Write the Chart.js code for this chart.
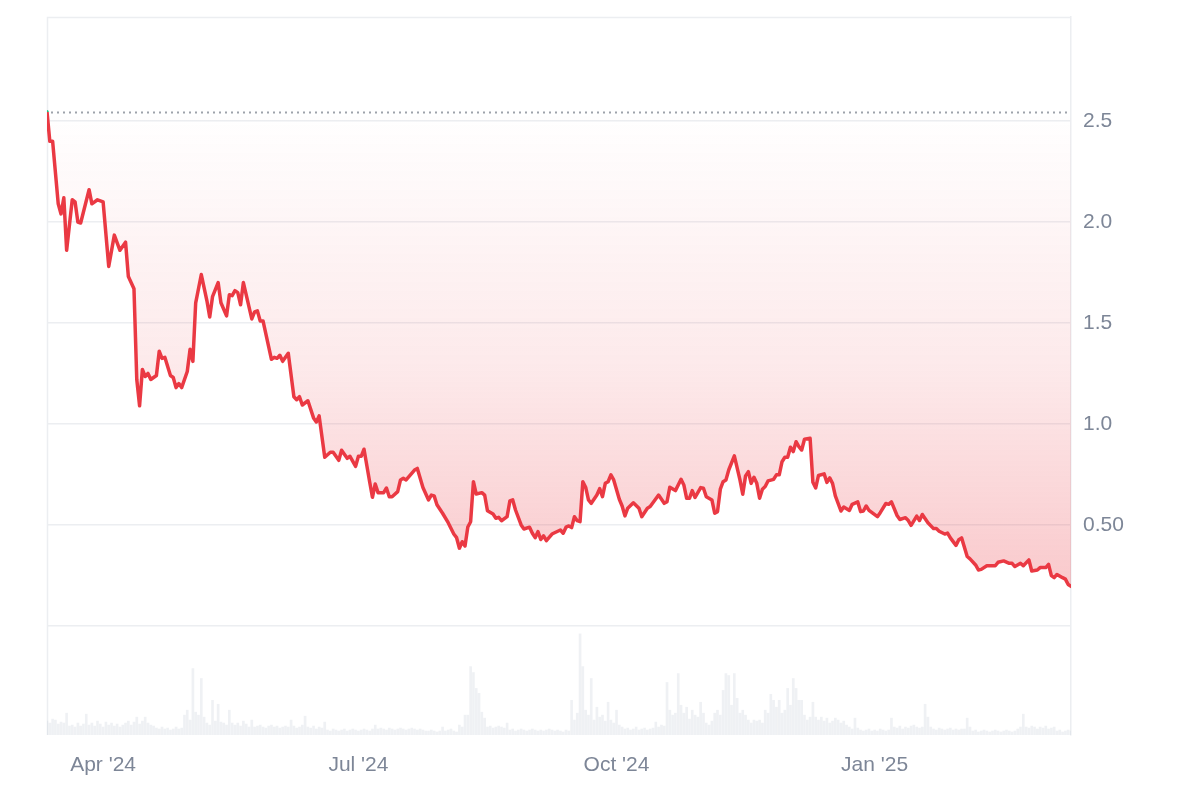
<!DOCTYPE html>
<html>
<head>
<meta charset="utf-8">
<title>Price chart</title>
<script src="https://cdn.jsdelivr.net/npm/chart.js@4.4.1/dist/chart.umd.min.js"></script>
<style>
  html, body { margin: 0; padding: 0; background: #fff; }
  canvas { display: block; }
</style>
</head>
<body>
<canvas id="price-chart" width="1200" height="797"></canvas>
<script>
// days are counted from 2024-03-12 (day 0) to 2025-03-12 (day 365)
const priceDay = [
  0, 1, 2, 4, 5, 6, 7, 9, 10, 11, 12, 15, 16, 18, 20, 22, 24, 26, 28, 29,
  31, 32, 33, 34, 35, 36, 37, 39, 40, 41, 42, 44, 45, 46, 47, 48, 50, 51, 52, 53,
  55, 57, 58, 59, 61, 62, 64, 65, 66, 67, 68, 69, 70, 73, 74, 75, 76, 77, 80, 81,
  82, 83, 84, 86, 88, 89, 90, 91, 93, 95, 96, 97, 99, 101, 102, 104, 105, 106, 107, 108,
  110, 111, 112, 113, 115, 116, 117, 118, 120, 121, 122, 123, 125, 126, 127, 128, 131, 132, 134, 136,
  137, 138, 139, 141, 143, 145, 146, 147, 148, 149, 150, 151, 152, 153, 155, 156, 157, 159, 160, 161,
  162, 164, 165, 166, 167, 169, 170, 172, 173, 174, 175, 176, 177, 178, 180, 183, 184, 185, 186, 187,
  188, 189, 190, 191, 192, 193, 194, 196, 197, 198, 199, 200, 201, 202, 204, 205, 206, 207, 209, 211,
  212, 214, 215, 218, 220, 221, 222, 224, 226, 227, 228, 229, 230, 231, 233, 234, 235, 237, 238, 239,
  240, 241, 242, 243, 245, 247, 248, 249, 250, 251, 252, 253, 254, 255, 256, 257, 259, 260, 261, 262,
  263, 264, 265, 266, 267, 268, 269, 270, 272, 273, 274, 275, 277, 278, 279, 280, 281, 283, 284, 286,
  287, 289, 290, 291, 292, 293, 296, 297, 299, 300, 301, 303, 304, 306, 307, 308, 310, 311, 312, 314,
  316, 317, 318, 320, 321, 322, 324, 325, 326, 328, 329, 331, 332, 333, 335, 337, 338, 339, 341, 343,
  344, 345, 347, 348, 350, 351, 353, 354, 356, 357, 358, 359, 360, 362, 363, 364, 365
];
const priceValue = [
  2.546, 2.40, 2.40, 2.09, 2.04, 2.12, 1.86, 2.11, 2.10, 2.00, 1.995, 2.16, 2.09, 2.11, 2.10, 1.78, 1.935, 1.86, 1.90, 1.73,
  1.67, 1.22, 1.09, 1.27, 1.235, 1.25, 1.22, 1.24, 1.36, 1.325, 1.33, 1.24, 1.23, 1.18, 1.20, 1.18, 1.26, 1.37, 1.31, 1.60,
  1.74, 1.61, 1.53, 1.63, 1.70, 1.60, 1.535, 1.64, 1.635, 1.66, 1.65, 1.59, 1.70, 1.52, 1.555, 1.56, 1.51, 1.51, 1.32, 1.33,
  1.325, 1.34, 1.31, 1.35, 1.135, 1.12, 1.135, 1.094, 1.115, 1.03, 1.01, 1.04, 0.835, 0.86, 0.86, 0.82, 0.87, 0.85, 0.83, 0.84,
  0.79, 0.84, 0.84, 0.875, 0.714, 0.637, 0.703, 0.66, 0.66, 0.683, 0.64, 0.64, 0.665, 0.723, 0.731, 0.723, 0.772, 0.78, 0.685, 0.624,
  0.648, 0.644, 0.60, 0.558, 0.511, 0.455, 0.437, 0.385, 0.417, 0.396, 0.49, 0.516, 0.714, 0.653, 0.66, 0.648, 0.57, 0.554, 0.533, 0.538,
  0.521, 0.541, 0.619, 0.624, 0.574, 0.50, 0.48, 0.489, 0.459, 0.437, 0.467, 0.428, 0.446, 0.422, 0.455, 0.475, 0.459, 0.489, 0.495, 0.487,
  0.541, 0.521, 0.516, 0.714, 0.687, 0.624, 0.607, 0.648, 0.68, 0.64, 0.706, 0.714, 0.748, 0.723, 0.627, 0.594, 0.545, 0.583, 0.61, 0.583,
  0.541, 0.583, 0.591, 0.648, 0.607, 0.615, 0.687, 0.67, 0.726, 0.698, 0.632, 0.632, 0.67, 0.636, 0.685, 0.682, 0.64, 0.624, 0.558, 0.566,
  0.677, 0.714, 0.723, 0.772, 0.842, 0.723, 0.652, 0.743, 0.764, 0.706, 0.736, 0.706, 0.632, 0.677, 0.69, 0.718, 0.726, 0.748, 0.748, 0.813,
  0.835, 0.835, 0.885, 0.863, 0.912, 0.888, 0.871, 0.924, 0.929, 0.711, 0.683, 0.745, 0.753, 0.711, 0.733, 0.706, 0.644, 0.569, 0.589, 0.572,
  0.602, 0.614, 0.566, 0.569, 0.594, 0.572, 0.541, 0.561, 0.606, 0.602, 0.614, 0.547, 0.527, 0.536, 0.522, 0.498, 0.544, 0.522, 0.552, 0.511,
  0.482, 0.482, 0.469, 0.455, 0.46, 0.436, 0.399, 0.427, 0.436, 0.344, 0.332, 0.302, 0.277, 0.28, 0.298, 0.298, 0.298, 0.315, 0.322, 0.31,
  0.31, 0.294, 0.31, 0.298, 0.327, 0.272, 0.277, 0.289, 0.289, 0.305, 0.249, 0.239, 0.255, 0.239, 0.232, 0.205, 0.196
];
// daily volume, one value per day starting at day 0 (relative units)
const volume = [
  14, 12, 16, 15, 11, 13, 12, 22, 9, 10,
  8, 12, 9, 11, 21, 10, 12, 9, 14, 11,
  8, 13, 10, 12, 9, 11, 8, 10, 12, 14,
  10, 13, 18, 11, 14, 18, 12, 10, 9, 7,
  6, 8, 6, 7, 5, 6, 8, 6, 7, 20,
  25, 15, 67, 23, 20, 57, 18, 12, 10, 35,
  14, 31, 13, 12, 10, 25, 12, 10, 12, 9,
  14, 11, 8, 15, 8, 9, 10, 8, 7, 9,
  10, 8, 9, 7, 8, 9, 8, 15, 9, 7,
  8, 10, 19, 8, 7, 9, 6, 8, 7, 13,
  5, 4, 6, 5, 4, 5, 6, 4, 5, 6,
  5, 4, 5, 6, 5, 4, 6, 10, 6, 7,
  6, 5, 7, 6, 5, 6, 7, 6, 5, 6,
  7, 6, 5, 6, 5, 4, 4, 5, 4, 3,
  4, 8, 4, 5, 6, 4, 3, 10, 8, 20,
  20, 69, 63, 47, 42, 23, 17, 8, 9, 7,
  8, 9, 8, 7, 12, 5, 6, 4, 5, 6,
  5, 4, 5, 6, 5, 4, 5, 4, 5, 6,
  5, 4, 5, 4, 3, 5, 4, 35, 15, 22,
  102, 69, 25, 20, 57, 15, 28, 18, 20, 14,
  33, 15, 12, 25, 10, 8, 6, 7, 5, 6,
  8, 5, 6, 7, 5, 6, 7, 13, 8, 10,
  9, 53, 25, 20, 22, 62, 30, 22, 28, 16,
  25, 20, 18, 33, 22, 12, 10, 14, 22, 25,
  20, 45, 62, 60, 30, 62, 37, 22, 25, 20,
  15, 12, 15, 14, 15, 12, 25, 22, 41, 35,
  28, 35, 22, 25, 47, 30, 57, 47, 35, 35,
  20, 15, 18, 33, 18, 15, 18, 14, 17, 12,
  14, 17, 15, 12, 14, 10, 8, 6, 17, 7,
  5, 4, 5, 6, 4, 5, 4, 6, 5, 4,
  5, 17, 8, 7, 9, 6, 8, 7, 9, 10,
  8, 7, 8, 31, 18, 8, 6, 5, 7, 6,
  5, 6, 7, 5, 6, 5, 6, 6, 17, 8,
  4, 5, 3, 4, 5, 4, 3, 4, 5, 4,
  3, 4, 5, 4, 3, 4, 6, 8, 21, 8,
  7, 9, 8, 6, 8, 7, 9, 6, 7, 8,
  4, 5, 3, 4, 5, 4
];
const monthTicks = [20, 111, 203, 295];
const monthLabels = ["Apr '24", "Jul '24", "Oct '24", "Jan '25"];
const yTickValues = [0, 0.5, 1, 1.5, 2, 2.5];
const yTickLabels = ['', '0.50', '1.0', '1.5', '2.0', '2.5'];

const RED = '#ea3943';
const GREEN = '#16c784';
const TEXT = '#7d8697';
const GRID = '#eceef1';
const baseline = priceValue[0];

const pricePoints = priceDay.map((d, i) => ({ x: d, y: priceValue[i] }));
const volumePoints = volume.map((v, i) => ({ x: i, y: v }));

function lineStroke(context) {
    const chart = context.chart;
    const area = chart.chartArea;
    if (!area) return RED;
    const yb = chart.scales.y.getPixelForValue(baseline);
    const f = Math.min(Math.max((yb - area.top) / (area.bottom - area.top), 0), 1);
    const g = chart.ctx.createLinearGradient(0, area.top, 0, area.bottom);
    g.addColorStop(0, GREEN);
    g.addColorStop(f, GREEN);
    g.addColorStop(f, RED);
    g.addColorStop(1, RED);
    return g;
}

function areaFill(context) {
    const chart = context.chart;
    const area = chart.chartArea;
    if (!area) return 'rgba(234,57,67,0.1)';
    const y0 = chart.scales.y.getPixelForValue(baseline);
    const y1 = chart.scales.y.getPixelForValue(0);
    const g = chart.ctx.createLinearGradient(0, y0, 0, y1);
    g.addColorStop(0, 'rgba(234,57,67,0.0)');
    g.addColorStop(0.5, 'rgba(234,57,67,0.11)');
    g.addColorStop(1, 'rgba(234,57,67,0.30)');
    return g;
}

// left and top frame lines plus the dotted start-price line
const framePlugin = {
    id: 'frame',
    beforeDatasetsDraw(chart) {
        const c = chart.ctx;
        const a = chart.chartArea;
        c.save();
        c.strokeStyle = GRID;
        c.lineWidth = 1.5;
        c.beginPath();
        c.moveTo(a.left + 0.5, a.bottom);
        c.lineTo(a.left + 0.5, a.top + 0.5);
        c.lineTo(a.right, a.top + 0.5);
        c.stroke();

        const yb = Math.round(chart.scales.y.getPixelForValue(baseline)) + 0.5;
        c.strokeStyle = '#9ea3ab';
        c.lineWidth = 2;
        c.setLineDash([2, 4]);
        c.beginPath();
        c.moveTo(a.left + 4, yb);
        c.lineTo(a.right, yb);
        c.stroke();
        c.restore();
    }
};

const ctx = document.getElementById('price-chart').getContext('2d');
const priceChart = new Chart(ctx, {
    type: 'line',
    data: {
        datasets: [{
            label: 'Price',
            data: pricePoints,
            yAxisID: 'y',
            borderColor: lineStroke,
            backgroundColor: areaFill,
            borderWidth: 3.5,
            borderJoinStyle: 'round',
            borderCapStyle: 'round',
            pointRadius: 0,
            tension: 0,
            fill: { value: baseline },
            order: 1
        }, {
            type: 'bar',
            label: 'Volume',
            data: volumePoints,
            yAxisID: 'yVol',
            backgroundColor: 'rgba(210,216,224,0.35)',
            barThickness: 2,
            grouped: false,
            order: 2
        }]
    },
    options: {
        responsive: false,
        animation: false,
        devicePixelRatio: 1,
        layout: { padding: { left: 47, top: 17, right: 0, bottom: 0 } },
        plugins: {
            legend: { display: false },
            tooltip: { enabled: false }
        },
        scales: {
            x: {
                type: 'linear',
                offset: false,
                min: 0,
                max: 365,
                grid: { display: false, drawTicks: false, offset: false },
                border: { display: false },
                afterBuildTicks: scale => {
                    scale.ticks = monthTicks.map(v => ({ value: v }));
                },
                afterFit: scale => {
                    scale.height = 62;
                    scale.paddingLeft = 0;
                    scale.paddingRight = 0;
                },
                ticks: {
                    autoSkip: false,
                    maxRotation: 0,
                    padding: 18,
                    color: TEXT,
                    font: { family: '"Liberation Sans", Arial, sans-serif', size: 21 },
                    callback: (value, index) => monthLabels[monthTicks.indexOf(value)]
                }
            },
            y: {
                position: 'right',
                min: -0.54,
                max: 3.015,
                grid: { color: GRID, lineWidth: 1.5, drawTicks: false },
                border: { display: true, color: GRID, width: 1.5 },
                afterBuildTicks: scale => {
                    scale.ticks = yTickValues.map(v => ({ value: v }));
                },
                afterFit: scale => {
                    scale.width = 129;
                    scale.paddingTop = 0;
                    scale.paddingBottom = 0;
                },
                ticks: {
                    padding: 12,
                    color: TEXT,
                    font: { family: '"Liberation Sans", Arial, sans-serif', size: 21 },
                    callback: value => yTickLabels[yTickValues.indexOf(value)]
                }
            },
            yVol: {
                display: false,
                min: 0,
                max: Math.max(...volume) * 7.1
            }
        }
    },
    plugins: [framePlugin]
});
</script>
</body>
</html>
